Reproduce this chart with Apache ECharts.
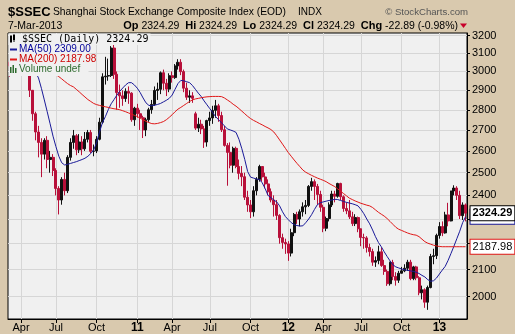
<!DOCTYPE html>
<html><head><meta charset="utf-8">
<script src="https://cdn.jsdelivr.net/npm/echarts@6/dist/echarts.min.js"></script>
<style>html,body{margin:0;padding:0;background:#d9c9ae}#c{width:515px;height:334px}</style>
</head><body><div id="c"></div>
<script>
// ---- data (weekly) ----
const dates = [
'2010-03-05','2010-03-12','2010-03-19','2010-03-26','2010-04-02','2010-04-09','2010-04-16','2010-04-23','2010-04-30','2010-05-07','2010-05-14','2010-05-21','2010-05-28','2010-06-04','2010-06-11','2010-06-18','2010-06-25','2010-07-02','2010-07-09','2010-07-16','2010-07-23','2010-07-30','2010-08-06','2010-08-13','2010-08-20','2010-08-27','2010-09-03','2010-09-10','2010-09-17','2010-09-24','2010-10-01','2010-10-08','2010-10-15','2010-10-22','2010-10-29','2010-11-05','2010-11-12','2010-11-19','2010-11-26','2010-12-03','2010-12-10','2010-12-17','2010-12-24','2010-12-31',
'2011-01-07','2011-01-14','2011-01-21','2011-01-28','2011-02-04','2011-02-11','2011-02-18','2011-02-25','2011-03-04','2011-03-11','2011-03-18','2011-03-25','2011-04-01','2011-04-08','2011-04-15','2011-04-22','2011-04-29','2011-05-06','2011-05-13','2011-05-20','2011-05-27','2011-06-03','2011-06-10','2011-06-17','2011-06-24','2011-07-01','2011-07-08','2011-07-15','2011-07-22','2011-07-29','2011-08-05','2011-08-12','2011-08-19','2011-08-26','2011-09-02','2011-09-09','2011-09-16','2011-09-23','2011-09-30','2011-10-07','2011-10-14','2011-10-21','2011-10-28','2011-11-04','2011-11-11','2011-11-18','2011-11-25','2011-12-02','2011-12-09','2011-12-16','2011-12-23','2011-12-30',
'2012-01-06','2012-01-13','2012-01-20','2012-01-27','2012-02-03','2012-02-10','2012-02-17','2012-02-24','2012-03-02','2012-03-09','2012-03-16','2012-03-23','2012-03-30','2012-04-06','2012-04-13','2012-04-20','2012-04-27','2012-05-04','2012-05-11','2012-05-18','2012-05-25','2012-06-01','2012-06-08','2012-06-15','2012-06-22','2012-06-29','2012-07-06','2012-07-13','2012-07-20','2012-07-27','2012-08-03','2012-08-10','2012-08-17','2012-08-24','2012-08-31','2012-09-07','2012-09-14','2012-09-21','2012-09-28','2012-10-05','2012-10-12','2012-10-19','2012-10-26','2012-11-02','2012-11-09','2012-11-16','2012-11-23','2012-11-30','2012-12-07','2012-12-14','2012-12-21','2012-12-28',
'2013-01-04','2013-01-11','2013-01-18','2013-01-25','2013-02-01','2013-02-08','2013-02-15','2013-02-22','2013-03-01','2013-03-07'];

// [open, close, low, high]
const candles = [
[3050,3031,2972,3090],[3031,3013,2990,3080],[3013,3007,2990,3090],[3007,3060,2995,3075],[3060,3128,3055,3135],[3128,3140,3100,3181],[3140,2990,2978,3180],[2990,2900,2865,3010],[2900,2780,2745,2880],[2780,2690,2650,2790],
[2690,2640,2570,2720],[2640,2585,2480,2660],[2585,2650,2560,2660],[2650,2560,2520,2670],[2560,2570,2500,2600],[2570,2510,2485,2585],[2510,2430,2400,2520],[2430,2380,2319,2440],[2380,2470,2360,2480],[2470,2420,2400,2500],
[2420,2570,2410,2580],[2570,2640,2555,2660],[2640,2672,2610,2700],[2672,2605,2580,2680],[2605,2642,2590,2680],[2642,2610,2580,2670],[2610,2655,2600,2690],[2655,2688,2640,2700],[2688,2598,2590,2700],[2598,2600,2575,2630],
[2600,2655,2590,2670],[2655,2738,2650,2760],[2738,2971,2730,2990],[2971,2975,2930,3080],[2975,2978,2950,3070],[2978,3129,2970,3140],[3129,2985,2960,3160],[2985,2888,2800,3000],[2888,2871,2810,2930],[2871,2857,2820,2900],
[2857,2894,2840,2910],[2894,2885,2830,2920],[2885,2750,2740,2890],[2750,2808,2720,2815],[2808,2780,2760,2830],[2780,2760,2700,2800],[2760,2700,2661,2770],[2700,2750,2670,2760],[2750,2800,2740,2810],[2800,2827,2780,2850],
[2827,2899,2820,2920],[2899,2905,2850,2940],[2905,2993,2880,3000],[2993,2937,2900,3010],[2937,2906,2870,2960],[2906,2977,2890,2990],[2977,2967,2940,3000],[2967,3030,2960,3040],[3030,3050,3010,3067],[3050,2999,2980,3067],
[2999,2911,2890,3010],[2911,2864,2850,2940],[2864,2871,2835,2900],[2871,2858,2835,2890],[2780,2709,2700,2790],[2709,2728,2690,2760],[2728,2705,2680,2750],[2705,2642,2614,2720],[2642,2746,2620,2750],[2746,2759,2720,2790],
[2759,2797,2730,2820],[2797,2820,2760,2850],[2820,2771,2740,2830],[2771,2701,2690,2790],[2701,2626,2620,2720],[2626,2593,2442,2637],[2593,2534,2520,2640],[2534,2612,2500,2620],[2612,2528,2520,2620],[2528,2497,2470,2560],
[2497,2482,2440,2530],[2482,2392,2380,2500],[2392,2359,2330,2420],[2359,2330,2304,2380],[2330,2420,2310,2440],[2420,2470,2400,2480],[2470,2528,2460,2536],[2528,2481,2460,2530],[2481,2450,2430,2500],[2450,2416,2400,2470],
[2416,2380,2370,2430],[2380,2360,2310,2400],[2360,2315,2296,2380],[2315,2224,2200,2320],[2224,2205,2180,2240],[2205,2199,2160,2220],[2199,2163,2133,2210],[2163,2244,2150,2260],[2244,2319,2230,2325],[2319,2300,2280,2330],
[2300,2330,2270,2340],[2330,2351,2310,2370],[2351,2357,2320,2380],[2357,2439,2350,2445],[2439,2460,2420,2477],[2460,2439,2380,2470],[2439,2404,2360,2450],[2404,2349,2330,2420],[2349,2262,2246,2360],[2262,2302,2250,2310],
[2302,2359,2290,2370],[2359,2406,2350,2420],[2406,2396,2370,2420],[2396,2452,2390,2455],[2452,2394,2380,2455],[2394,2344,2330,2400],[2344,2334,2320,2370],[2334,2309,2300,2380],[2309,2281,2271,2330],[2281,2306,2271,2320],
[2306,2260,2246,2310],[2260,2225,2190,2260],[2225,2223,2180,2240],[2223,2185,2165,2230],[2185,2169,2150,2200],[2169,2128,2114,2180],[2128,2134,2110,2150],[2134,2168,2120,2192],[2168,2115,2110,2185],[2115,2093,2080,2137],
[2093,2047,2039,2100],[2047,2127,2040,2130],[2127,2074,2060,2137],[2074,2060,2040,2090],[2060,2086,2050,2095],[2086,2095,2087,2110],[2095,2105,2090,2120],[2105,2128,2095,2137],[2128,2066,2060,2137],[2066,2110,2060,2114],
[2110,2069,2060,2114],[2069,2014,2005,2075],[2014,2025,1990,2040],[2025,1980,1960,2030],[1980,2033,1953,2040],[2033,2150,2030,2160],[2150,2153,2120,2180],[2153,2233,2140,2240],[2233,2269,2220,2287],[2269,2243,2230,2290],
[2243,2317,2240,2330],[2317,2292,2270,2368],[2292,2419,2290,2420],[2419,2432,2400,2444],[2432,2400,2380,2440],[2400,2314,2300,2420],[2314,2359,2296,2370],[2359,2324.29,2290,2365]];

const ma50 = [
3060,3050,3045,3045,3055,3065,3068,3055,3030,2995,2965,2910,2850,2790,2730,2670,2620,2575,2545,2535,
2538,2542,2546,2550,2555,2560,2566,2575,2588,2604,2640,2690,2735,2765,2800,2830,2852,2875,2895,2912,
2928,2940,2940,2928,2911,2888,2860,2835,2822,2820,2823,2827,2832,2840,2848,2858,2875,2905,2935,2952,
2950,2945,2940,2925,2905,2885,2868,2845,2825,2805,2785,2765,2750,2735,2720,2705,2700,2695,2688,2655,
2610,2560,2505,2480,2476,2472,2470,2455,2430,2400,2390,2380,2372,2355,2330,2310,2297,2285,2277,2273,
2271,2272,2285,2300,2318,2340,2360,2368,2372,2375,2378,2380,2383,2382,2378,2374,2370,2367,2364,2360,
2355,2340,2322,2300,2280,2255,2228,2205,2188,2168,2150,2133,2118,2110,2106,2102,2099,2097,2095,2093,
2090,2085,2078,2072,2062,2056,2058,2068,2083,2098,2112,2135,2162,2190,2220,2250,2285,2309.00];

const ma200 = [
3100,3095,3090,3085,3080,3075,3070,3062,3055,3048,3040,3030,3020,3010,3000,2992,2983,2972,2960,2947,
2935,2925,2918,2905,2892,2878,2865,2852,2842,2832,2826,2822,2818,2815,2812,2808,2805,2803,2800,2795,
2790,2784,2778,2772,2766,2758,2750,2742,2736,2731,2730,2732,2736,2741,2750,2762,2775,2790,2803,2812,
2822,2832,2842,2850,2855,2858,2861,2864,2866,2867,2868,2868,2868,2867,2860,2850,2840,2828,2818,2806,
2793,2780,2767,2756,2747,2740,2732,2725,2717,2710,2702,2690,2672,2652,2632,2612,2592,2575,2558,2542,
2527,2512,2502,2495,2488,2482,2476,2471,2466,2460,2452,2445,2438,2428,2418,2408,2398,2388,2382,2376,
2371,2366,2362,2358,2355,2348,2338,2328,2320,2312,2302,2290,2278,2266,2258,2253,2248,2243,2239,2236,
2234,2228,2218,2208,2202,2198,2194,2191,2189,2188,2188,2188,2188,2188,2188,2188,2188,2187.98];

const yTicks = [2000,2100,2200,2300,2400,2500,2600,2700,2800,2900,3000,3100,3200];
const tickDates = ['2010-04-02','2010-06-25','2010-10-01','2011-01-07','2011-04-01','2011-07-01','2011-10-07','2012-01-06','2012-03-30','2012-06-29','2012-10-05','2013-01-04'];
const tickLabels = ['Apr','Jul','Oct','11','Apr','Jul','Oct','12','Apr','Jul','Oct','13'];

// ---- chart ----
const SANS = '"Liberation Sans", Arial, sans-serif';
const PLOT_BG = '#f0f0f0';
const GRID_C = '#d6d6d6';
const BLUE = '#1a1a99', RED = '#e01818', CRED = '#b8103a';
const isTick = (i, v) => tickDates.indexOf(v) >= 0;
const last = dates.length - 1;

const chart = echarts.init(document.getElementById('c'), null, {renderer: 'canvas'});
chart.setOption({
  backgroundColor: '#d9c9ae',
  animation: false,
  grid: {left: 8, right: 48, top: 33, bottom: 15, show: true, backgroundColor: PLOT_BG,
         borderColor: '#000', borderWidth: 1, containLabel: false, outerBoundsMode: 'none'},
  xAxis: {
    type: 'category', data: dates, boundaryGap: true,
    axisLine: {show: true, lineStyle: {color: '#000'}},
    axisTick: {show: true, interval: isTick, alignWithLabel: true, length: 4, lineStyle: {color: '#000'}},
    axisLabel: {interval: isTick, margin: 3, color: '#000', fontSize: 11, fontFamily: SANS,
      formatter: v => { const k = tickDates.indexOf(v); if (k < 0) return ''; const t = tickLabels[k];
        return /^\d+$/.test(t) ? '{y|' + t + '}' : t; },
      rich: {y: {fontWeight: 'bold', fontSize: 12, fontFamily: SANS, color: '#000'}}},
    splitLine: {show: true, interval: isTick, alignWithLabel: true, lineStyle: {color: GRID_C, width: 1}}
  },
  yAxis: {
    type: 'log', logBase: 10, min: 1921, max: 3215, position: 'right',
    axisLine: {show: true, lineStyle: {color: '#000'}},
    axisTick: {show: true, length: 3, customValues: yTicks, lineStyle: {color: '#000'}},
    axisLabel: {show: true, customValues: yTicks, margin: 5, color: '#000', fontSize: 11, fontFamily: SANS,
      formatter: v => String(Math.round(v))},
    splitLine: {show: true, lineStyle: {color: GRID_C, width: 1}}
  },
  series: [
    {type: 'candlestick', data: candles, barWidth: 2.5,
     itemStyle: {color: '#111', color0: CRED, borderColor: '#111', borderColor0: CRED, borderWidth: 1},
     markPoint: {symbol: 'circle', symbolSize: 0, z: 8, silent: true,
       data: [{coord: [dates[last], candles[last][1]],
         label: {show: true, position: 'right', distance: 5, formatter: candles[last][1].toFixed(2),
           color: '#000', fontWeight: 'bold', fontSize: 11, fontFamily: SANS, backgroundColor: '#fff',
           borderColor: '#000', borderWidth: 1, padding: [2, 2, 1, 2]}}]}},
    {type: 'line', data: ma50, showSymbol: false, symbol: 'none', lineStyle: {color: BLUE, width: 1}, z: 3,
     markPoint: {symbol: 'circle', symbolSize: 0, z: 6, silent: true,
       data: [{coord: [dates[last], ma50[last]],
         label: {show: true, position: 'right', distance: 5, formatter: ma50[last].toFixed(2),
           color: '#000', fontSize: 11, fontFamily: SANS, backgroundColor: '#fff',
           borderColor: BLUE, borderWidth: 1, padding: [2, 2, 1, 2]}}]}},
    {type: 'line', data: ma200, showSymbol: false, symbol: 'none', lineStyle: {color: RED, width: 1}, z: 3,
     markPoint: {symbol: 'circle', symbolSize: 0, z: 6, silent: true,
       data: [{coord: [dates[last], ma200[last]],
         label: {show: true, position: 'right', distance: 5, formatter: ma200[last].toFixed(2),
           color: '#000', fontSize: 11, fontFamily: SANS, backgroundColor: '#fff',
           borderColor: RED, borderWidth: 1, padding: [2, 2, 1, 2]}}]}}
  ],
  graphic: [
    // header
    {type: 'text', z: 100, style: {x: 8, y: 12.5, text: '$SSEC', font: 'bold 13px ' + SANS, fill: '#000', verticalAlign: 'middle'}},
    {type: 'text', z: 100, style: {x: 53, y: 12.5, text: 'Shanghai Stock Exchange Composite Index (EOD)', font: '10.3px ' + SANS, fill: '#000', verticalAlign: 'middle'}},
    {type: 'text', z: 100, style: {x: 298, y: 12.5, text: 'INDX', font: '10px ' + SANS, fill: '#000', verticalAlign: 'middle'}},
    {type: 'text', z: 100, style: {x: 468, y: 12.5, text: '\u00a9 StockCharts.com', font: '9.6px ' + SANS, fill: '#555', align: 'right', verticalAlign: 'middle'}},
    {type: 'text', z: 100, style: {x: 8, y: 26, text: '7-Mar-2013', font: '10.5px ' + SANS, fill: '#000', verticalAlign: 'middle'}},
    {type: 'text', z: 100, style: {x: 458, y: 26, align: 'right', verticalAlign: 'middle', fill: '#000', font: '10.5px ' + SANS,
      text: '{b|Op} 2324.29  {b|Hi} 2324.29  {b|Lo} 2324.29  {b|Cl} 2324.29  {b|Chg} -22.89 (-0.98%)',
      rich: {b: {fontWeight: 'bold', fontSize: 11, fontFamily: SANS, fill: '#000'}}}},
    {type: 'polygon', z: 100, shape: {points: [[460, 23.5], [467, 23.5], [463.5, 28]]}, style: {fill: '#c8002a'}},
    // in-plot legend box
    {type: 'rect', z: 100, shape: {x: 8.5, y: 33.5, width: 80, height: 42.5}, style: {fill: PLOT_BG}},
    {type: 'rect', z: 100, shape: {x: 8.5, y: 33.5, width: 142, height: 11.5}, style: {fill: PLOT_BG}},
    {type: 'rect', z: 101, shape: {x: 10, y: 36, width: 2, height: 6}, style: {fill: '#000'}},
    {type: 'rect', z: 101, shape: {x: 13, y: 35, width: 2, height: 5}, style: {fill: '#000'}},
    {type: 'line', z: 101, shape: {x1: 11, y1: 35, x2: 11, y2: 43}, style: {stroke: '#000', lineWidth: 1}},
    {type: 'line', z: 101, shape: {x1: 14, y1: 34, x2: 14, y2: 42}, style: {stroke: '#000', lineWidth: 1}},
    {type: 'text', z: 101, style: {x: 22, y: 39.5, text: '$SSEC (Daily) 2324.29', font: '10px "DejaVu Sans Mono", monospace', fill: '#000', verticalAlign: 'middle'}},
    {type: 'line', z: 101, shape: {x1: 10, y1: 49.5, x2: 17, y2: 49.5}, style: {stroke: BLUE, lineWidth: 2}},
    {type: 'text', z: 101, style: {x: 19, y: 49.5, text: 'MA(50) 2309.00', font: '10px ' + SANS, fill: '#000099', verticalAlign: 'middle'}},
    {type: 'line', z: 101, shape: {x1: 10, y1: 59.5, x2: 17, y2: 59.5}, style: {stroke: RED, lineWidth: 2}},
    {type: 'text', z: 101, style: {x: 19, y: 59.5, text: 'MA(200) 2187.98', font: '10px ' + SANS, fill: '#cc0000', verticalAlign: 'middle'}},
    {type: 'rect', z: 101, shape: {x: 10, y: 67, width: 1.5, height: 6}, style: {fill: '#2e6b2e'}},
    {type: 'rect', z: 101, shape: {x: 12.5, y: 65, width: 1.5, height: 8}, style: {fill: '#2e6b2e'}},
    {type: 'rect', z: 101, shape: {x: 15, y: 68, width: 1.5, height: 5}, style: {fill: '#2e6b2e'}},
    {type: 'text', z: 101, style: {x: 19, y: 69.5, text: 'Volume undef', font: '10px ' + SANS, fill: '#2e6b2e', verticalAlign: 'middle'}}
  ]
});
</script>
</body></html>
